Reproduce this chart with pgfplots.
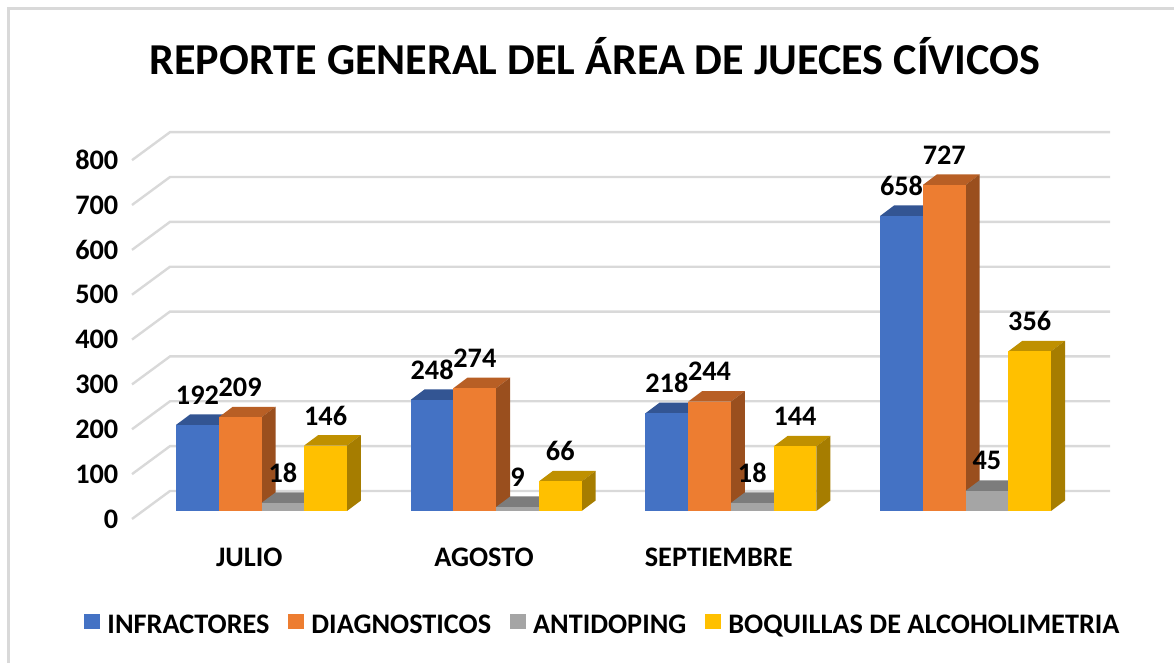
\documentclass[border=0pt]{standalone}
\usepackage{pgfplots}
\pgfplotsset{compat=1.18}
\usepackage{fontspec}
\setmainfont{Carlito}
\newlength{\px}
\setlength{\px}{0.75pt}
\definecolor{azul}{HTML}{4472C4}
\definecolor{azulT}{HTML}{335593}
\definecolor{azulS}{HTML}{2C4A80}
\definecolor{naranja}{HTML}{ED7D31}
\definecolor{naranjaT}{HTML}{B85F25}
\definecolor{naranjaS}{HTML}{9A4F1E}
\definecolor{gris}{HTML}{A5A5A5}
\definecolor{grisT}{HTML}{7C7C7C}
\definecolor{grisS}{HTML}{6B6B6B}
\definecolor{amarillo}{HTML}{FFC000}
\definecolor{amarilloT}{HTML}{BF9000}
\definecolor{amarilloS}{HTML}{A67D00}
\definecolor{rejilla}{HTML}{D9D9D9}
% one bar: group, slot 0-3, value, colour name
\newcommand{\barra}[4]{%
  \pgfmathsetmacro{\xa}{#1+(#2-2)*0.182}%
  \pgfmathsetmacro{\xb}{\xa+0.182}%
  \pgfmathsetmacro{\xc}{\xb+0.0597}%
  \pgfmathsetmacro{\xd}{\xa+0.0597}%
  \pgfmathsetmacro{\xm}{\xa+0.091}%
  \pgfmathsetmacro{\vt}{#3+23.4}%
  \edef\temp{%
    \noexpand\addplot[forget plot,draw=none,fill=#4T] coordinates {(\xa,#3) (\xb,#3) (\xc,\vt) (\xd,\vt)};
    \noexpand\addplot[forget plot,draw=none,fill=#4S] coordinates {(\xb,0) (\xb,#3) (\xc,\vt) (\xc,23.4)};
    \noexpand\addplot[forget plot,ybar,bar width=0.182,bar shift=0pt,draw=none,fill=#4] coordinates {(\xm,#3)};
  }\temp}
% one grid line: value on the wall
\newcommand{\rejilla}[1]{%
  \pgfmathsetmacro{\va}{#1-17.8}%
  \pgfmathsetmacro{\vb}{#1+44.6}%
  \edef\temp{%
    \noexpand\addplot[forget plot,rejilla,line width=2.4\noexpand\px] coordinates {(-0.5518,\va) (-0.3899,\vb) (3.6153,\vb)};
  }\temp}
\begin{document}
\begin{tikzpicture}[x=\px,y=\px]
\path[use as bounding box] (0,0) rectangle (1174,663);
\draw[rejilla,line width=3\px] (8,0) -- (8,654.3) -- (1174,654.3);
\begin{axis}[
  at={(132\px,152\px)}, anchor=south west,
  scale only axis,
  width=978\px, height=379\px,
  xmin=-0.5518, xmax=3.6152,
  ymin=0, ymax=845,
  clip=false,
  axis line style={draw=none},
  major tick length=0pt,
  ytick={0,100,200,300,400,500,600,700,800},
  xtick={-0.052,0.948,1.948},
  xticklabels={JULIO,AGOSTO,SEPTIEMBRE},
  tick label style={font=\fontsize{21.2}{22}\selectfont\bfseries,text=black},
  /pgf/number format/assume math mode=true,
  yticklabel style={yshift=-8\px,xshift=-9\px},
  xticklabel style={yshift=-32\px},
  legend columns=4,
  legend style={
    at={(-52\px,-106\px)}, anchor=west,
    draw=none, fill=none,
    font=\fontsize{21.2}{22}\selectfont\bfseries,
    /tikz/every even column/.style={column sep=16\px},
    /tikz/every odd column/.style={column sep=5\px},
  },
  legend image code/.code={\fill[#1] (0,-11\px) rectangle (15\px,11\px);},
]
\rejilla{0}\rejilla{100}\rejilla{200}\rejilla{300}\rejilla{400}
\rejilla{500}\rejilla{600}\rejilla{700}\rejilla{800}

\barra{0}{0}{192}{azul}\barra{0}{1}{209}{naranja}\barra{0}{2}{18}{gris}\barra{0}{3}{146}{amarillo}
\barra{1}{0}{248}{azul}\barra{1}{1}{274}{naranja}\barra{1}{2}{9}{gris}\barra{1}{3}{66}{amarillo}
\barra{2}{0}{218}{azul}\barra{2}{1}{244}{naranja}\barra{2}{2}{18}{gris}\barra{2}{3}{144}{amarillo}
\barra{3}{0}{658}{azul}\barra{3}{1}{727}{naranja}\barra{3}{2}{45}{gris}\barra{3}{3}{356}{amarillo}

% data labels on top of everything
\pgfplotsset{every node near coord/.style={font=\fontsize{21.2}{22}\selectfont\bfseries,text=black,anchor=center,yshift=30\px,inner sep=0pt}}
\addplot[forget plot,only marks,mark=none,nodes near coords] coordinates {(-0.273,192) (0.727,248) (1.727,218) (2.727,658)};
\addplot[forget plot,only marks,mark=none,nodes near coords] coordinates {(-0.091,209) (0.909,274) (1.909,244) (2.909,727)};
\addplot[forget plot,only marks,mark=none,nodes near coords] coordinates {(0.091,18) (1.091,9) (2.091,18) (3.091,45)};
\addplot[forget plot,only marks,mark=none,nodes near coords] coordinates {(0.273,146) (1.273,66) (2.273,144) (3.273,356)};

\addlegendimage{azul}\addlegendentry{INFRACTORES}
\addlegendimage{naranja}\addlegendentry{DIAGNOSTICOS}
\addlegendimage{gris}\addlegendentry{ANTIDOPING}
\addlegendimage{amarillo}\addlegendentry{BOQUILLAS DE ALCOHOLIMETRIA}
\end{axis}
\node[font=\fontsize{33.1}{34}\selectfont\bfseries,text=black] at (595,607) {REPORTE GENERAL DEL ÁREA DE JUECES CÍVICOS};
\end{tikzpicture}
\end{document}
